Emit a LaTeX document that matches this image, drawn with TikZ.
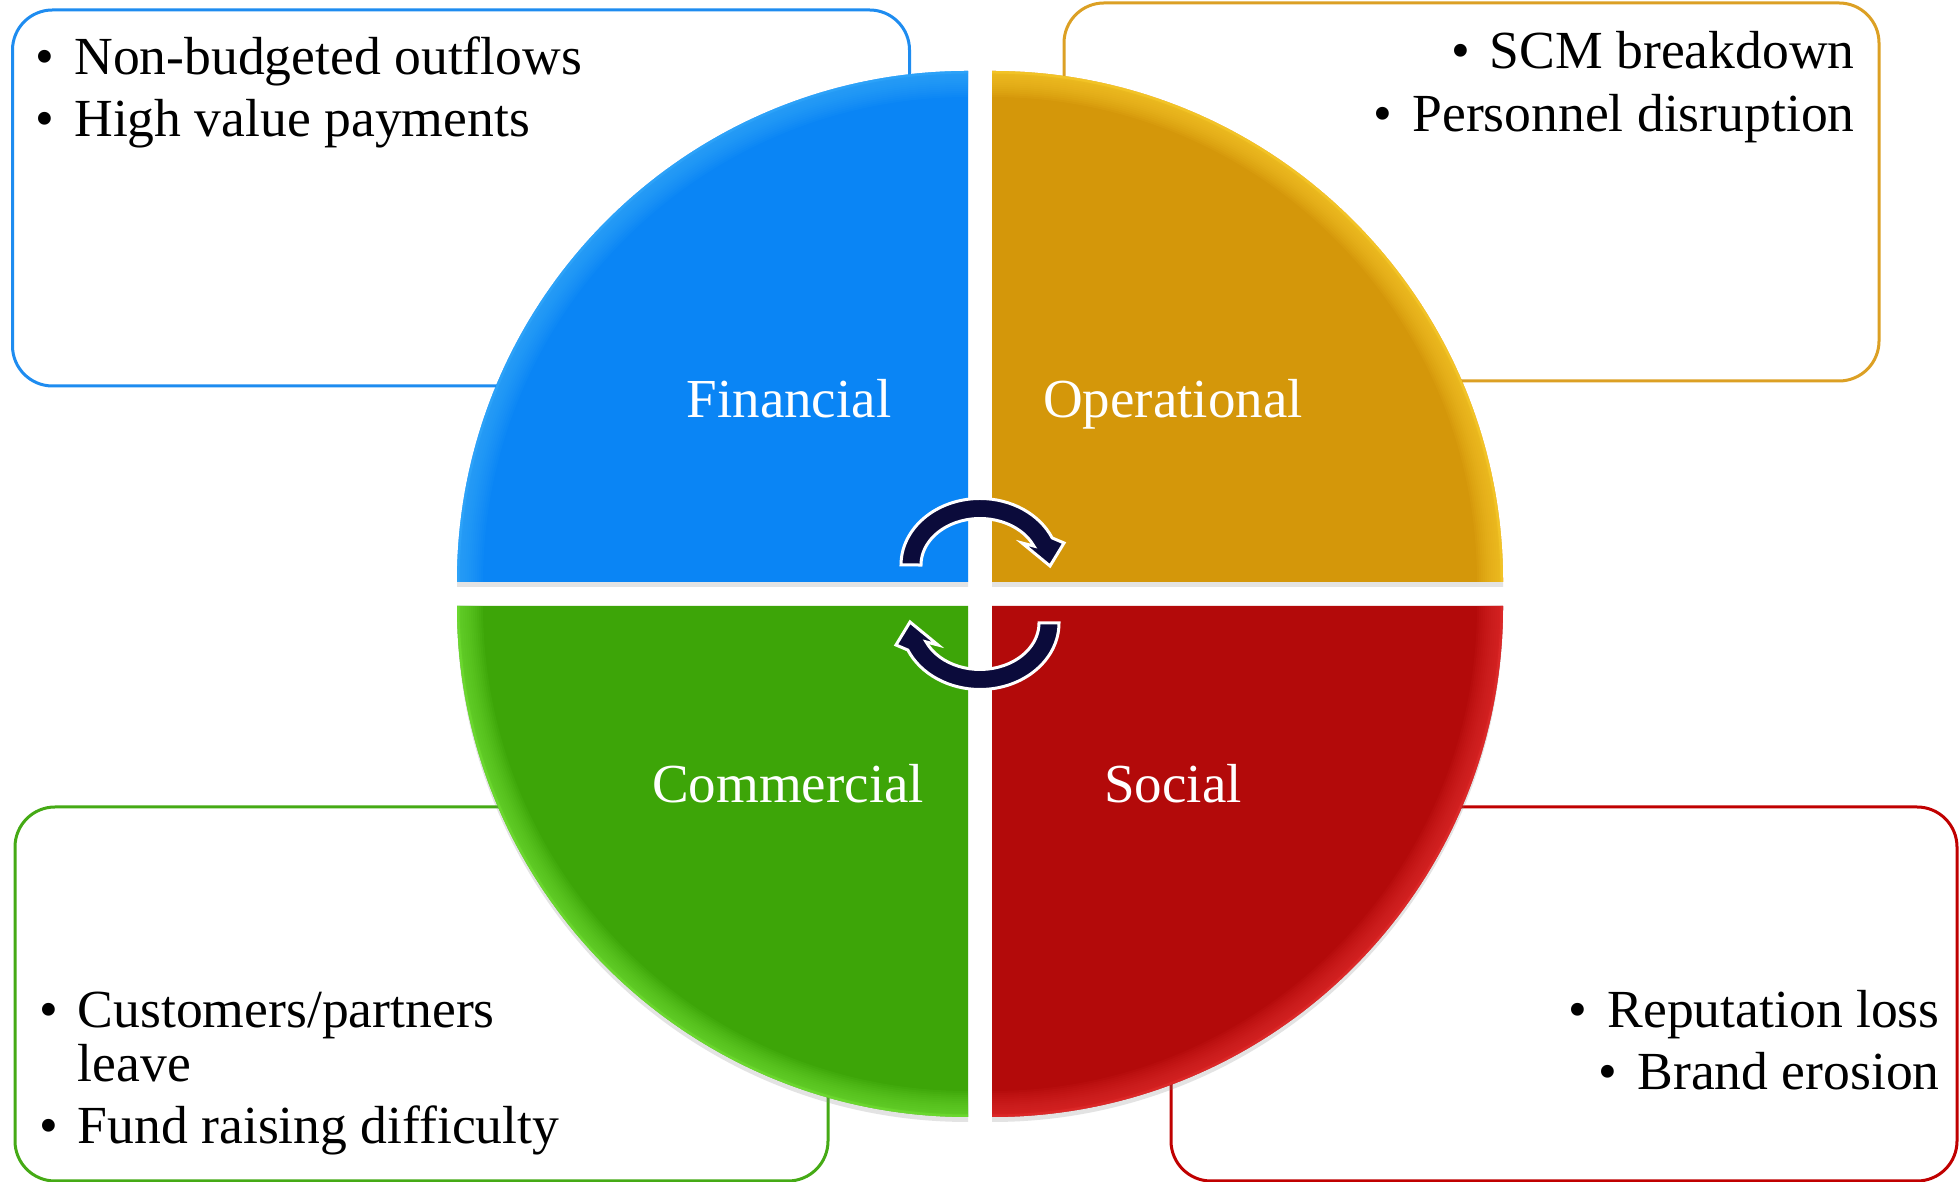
\documentclass[tikz,border=0pt]{standalone}
\usepackage{fontspec}
\setmainfont{Liberation Serif}
\usetikzlibrary{shadows}
\definecolor{finfill}{HTML}{0A85F5}
\definecolor{finlight}{HTML}{3AAEFF}
\definecolor{finline}{HTML}{1E8CF0}
\definecolor{opfill}{HTML}{D4970A}
\definecolor{oplight}{HTML}{FFD232}
\definecolor{opline}{HTML}{DCA024}
\definecolor{comfill}{HTML}{3DA508}
\definecolor{comlight}{HTML}{7AE83C}
\definecolor{comline}{HTML}{45AA15}
\definecolor{socfill}{HTML}{B30A0A}
\definecolor{soclight}{HTML}{EA3434}
\definecolor{socline}{HTML}{C00000}
\definecolor{arrowfill}{HTML}{0B0B3B}
\tikzset{
  infobox/.style={line width=1.5pt, rounded corners=20pt},
  itemtext/.style={font=\fontsize{26.8}{31}\selectfont, inner sep=0pt, text=black},
  quadlabel/.style={font=\fontsize{27.5}{32}\selectfont, inner sep=0pt, text=white, anchor=base},
  cyclearrow/.style={fill=arrowfill, draw=white, line width=1.5pt, line join=miter},
  quadshadow/.style={drop shadow={opacity=0.22, shadow xshift=0pt, shadow yshift=-2.5pt}}
}
\newcommand\bul{\makebox[0pt][r]{\textbullet\hspace{10pt}}}
\newcommand\quadrantpie[4]{%
  \fill[#3, quadshadow] (#1) -- ++(#2:511) arc[start angle=#2, delta angle=90, radius=511] -- cycle;
  \begin{scope}
    \clip (#1) -- ++(#2:511) arc[start angle=#2, delta angle=90, radius=511] -- cycle;
    \foreach \w in {26,24,22,20,18,16,14,12,10,8,6,4,3,2}
      \draw[#4, line width=\w pt, opacity=0.08] (#1) circle[radius=511];
    \draw[#4, line width=2.5pt, opacity=0.35] (#1) circle[radius=511];
  \end{scope}
}
\begin{document}
\begin{tikzpicture}[x=0.5pt, y=0.5pt]
\useasboundingbox (0,0) rectangle (1959,1182);
\fill[white] (0,0) rectangle (1959,1182);
\clip (0,0) rectangle (1959,1182);

% info boxes
\draw[infobox, draw=finline] (12.5,796) rectangle (909.5,1172);
\draw[infobox, draw=opline] (1064,801) rectangle (1879,1179);
\draw[infobox, draw=comline] (15,1) rectangle (828,375);
\draw[infobox, draw=socline] (1171,1) rectangle (1957,375);

% quadrants
\coordinate (cfin) at (968,600);
\coordinate (cop) at (992,600);
\coordinate (ccom) at (968,576);
\coordinate (csoc) at (992,576);
\quadrantpie{cfin}{90}{finfill}{finlight}
\quadrantpie{cop}{0}{opfill}{oplight}
\quadrantpie{ccom}{180}{comfill}{comlight}
\quadrantpie{csoc}{270}{socfill}{soclight}

% quadrant labels
\node[quadlabel] (lfin) at (789,764) {Financial};
\node[quadlabel] (lop) at (1173,764) {Operational};
\node[quadlabel] (lcom) at (788,379) {Commercial};
\node[quadlabel] (lsoc) at (1173,379) {Social};

% cycle arrows
\draw[cyclearrow] (901,617) arc[start angle=180, end angle=24, x radius=79, y radius=66.5]
  -- (1064,639) -- (1050,616) -- (1022,639) -- (1033.9,635.9)
  arc[start angle=24, end angle=180, x radius=59, y radius=46.5] -- cycle;
\draw[cyclearrow, rotate around={180:(980,588)}] (901,617) arc[start angle=180, end angle=24, x radius=79, y radius=66.5]
  -- (1064,639) -- (1050,616) -- (1022,639) -- (1033.9,635.9)
  arc[start angle=24, end angle=180, x radius=59, y radius=46.5] -- cycle;

% box texts
\node[itemtext, anchor=base west] (f1) at (74,1107) {\bul Non-budgeted outflows};
\node[itemtext, anchor=base west] (f2) at (74,1045) {\bul High value payments};
\node[itemtext, anchor=base east] (o1) at (1855,1113) {\bul SCM breakdown};
\node[itemtext, anchor=base east] (o2) at (1855,1050) {\bul Personnel disruption};
\node[itemtext, anchor=base west] (c1) at (77.5,154) {\bul Customers/partners};
\node[itemtext, anchor=base west] (c2) at (77.5,100) {leave};
\node[itemtext, anchor=base west] (c3) at (77.5,38) {\bul Fund raising difficulty};
\node[itemtext, anchor=base east] (s1) at (1940,154) {\bul Reputation loss};
\node[itemtext, anchor=base east] (s2) at (1940,92) {\bul Brand erosion};
\end{tikzpicture}
\end{document}
